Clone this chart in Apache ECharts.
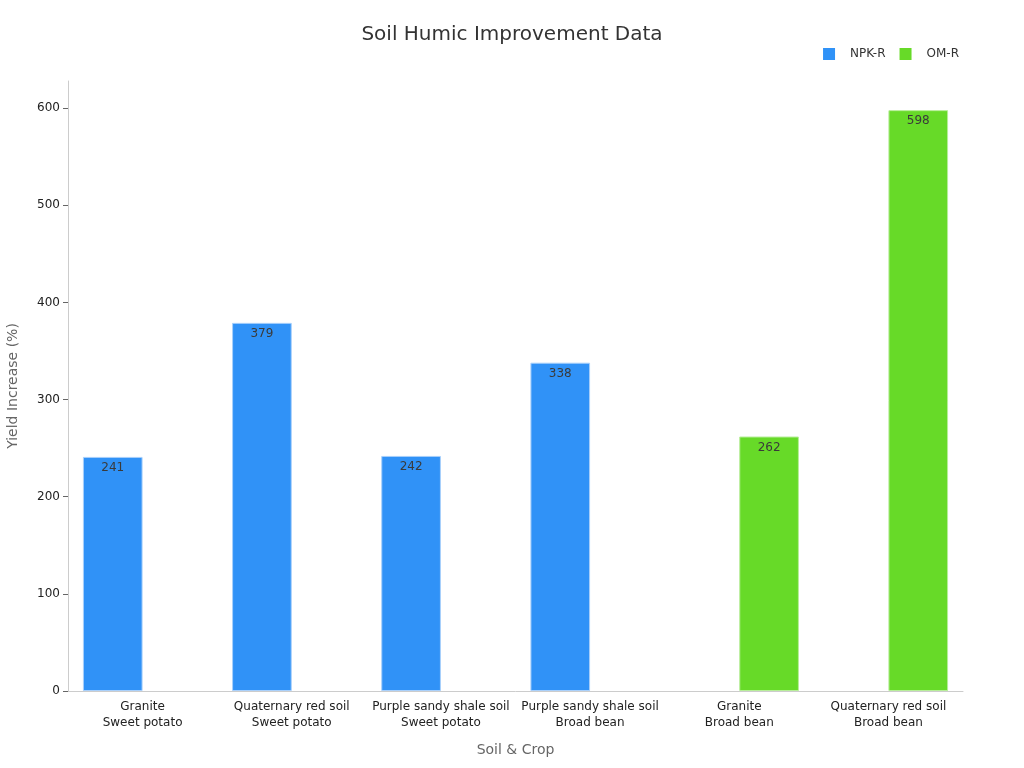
<!DOCTYPE html>
<html>
<head>
<meta charset="utf-8">
<title>Soil Humic Improvement Data</title>
<script src="https://cdn.jsdelivr.net/npm/echarts@6/dist/echarts.min.js"></script>
<style>
  html, body { margin: 0; padding: 0; background: #fff; }
  #main { width: 1024px; height: 768px; }
</style>
</head>
<body>
<div id="main"></div>
<script>
// categories and values
var categories = [
  'Granite\nSweet potato',
  'Quaternary red soil\nSweet potato',
  'Purple sandy shale soil\nSweet potato',
  'Purple sandy shale soil\nBroad bean',
  'Granite\nBroad bean',
  'Quaternary red soil\nBroad bean'
];
var npkR = [241, 379, 242, 338, null, null];
var omR = [null, null, null, null, 262, 598];
var yTicks = [0, 100, 200, 300, 400, 500, 600];

var chart = echarts.init(document.getElementById('main'));

var barLabel = {
  show: true,
  position: 'insideTop',
  color: '#3a3a3a',
  fontSize: 12
};

chart.setOption({
  textStyle: { fontFamily: 'DejaVu Sans, sans-serif' },
  title: {
    text: 'Soil Humic Improvement Data',
    left: 'center',
    top: 20,
    textStyle: { fontSize: 20, fontWeight: 'normal', color: '#333' }
  },
  legend: {
    right: 60,
    top: 43,
    icon: 'rect',
    itemWidth: 12,
    itemHeight: 12,
    itemGap: 14,
    itemStyle: { borderWidth: 0 },
    textStyle: { fontSize: 12, color: '#333', padding: [0, 0, 0, 10] },
    data: ['NPK-R', 'OM-R']
  },
  grid: { left: 68, right: 61, top: 81, bottom: 77, outerBoundsMode: 'none' },
  xAxis: {
    type: 'category',
    data: categories,
    name: 'Soil & Crop',
    nameLocation: 'middle',
    nameGap: 52,
    nameTextStyle: { fontSize: 14, color: '#666' },
    axisLine: { lineStyle: { color: '#ccc' } },
    axisTick: { alignWithLabel: true, lineStyle: { color: '#666' } },
    axisLabel: { color: '#222', fontSize: 12, interval: 0, lineHeight: 16 }
  },
  yAxis: {
    type: 'value',
    min: 0,
    max: 628,
    interval: 100,
    name: 'Yield Increase (%)',
    nameLocation: 'middle',
    nameGap: 48,
    nameTextStyle: { fontSize: 14, color: '#666' },
    axisLine: { show: true, lineStyle: { color: '#ccc' } },
    axisTick: { show: true, customValues: yTicks, lineStyle: { color: '#666' } },
    axisLabel: { color: '#222', fontSize: 12, customValues: yTicks },
    splitLine: { show: false }
  },
  series: [
    {
      name: 'NPK-R',
      type: 'bar',
      data: npkR,
      barWidth: '40%',
      barGap: '0%',
      itemStyle: { color: '#3092f7', borderColor: '#a9d0fb', borderWidth: 1 },
      label: barLabel
    },
    {
      name: 'OM-R',
      type: 'bar',
      data: omR,
      barWidth: '40%',
      barGap: '0%',
      itemStyle: { color: '#67da28', borderColor: '#b7ee99', borderWidth: 1 },
      label: barLabel
    }
  ]
});
</script>
</body>
</html>
